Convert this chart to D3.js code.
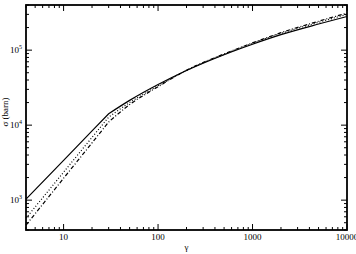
<!DOCTYPE html>
<html lang="en">
<head>
    <meta charset="UTF-8">
    <title>sigma vs gamma</title>
    <script src="https://cdn.jsdelivr.net/npm/d3@7/dist/d3.min.js"></script>
    <style>
        body { margin: 0; background: #fff; }
        text { font-family: "Liberation Serif", "DejaVu Serif", serif; fill: #000; }
    </style>
</head>
<body>
    <script>
        // data
        var gammas = [4, 10, 20, 30, 50, 100, 200, 500, 1000, 2000, 5000, 10000];
        var solid = [1030, 3400, 8370, 14200, 21400, 34800, 53500, 86900, 120000, 161000, 223000, 281000];
        var dotted = [575, 2360, 6870, 12800, 20000, 33500, 53800, 88000, 123000, 167000, 235000, 300000];
        var dashdot = [464, 1960, 5800, 11000, 18800, 32500, 54000, 89000, 125000, 171000, 243000, 312000];
        var kink = 3; // index of gamma = 30, where the curves bend
        var xMajor = [10, 100, 1000, 10000];
        var yMajor = [1000, 10000, 100000];

        var w = 356, h = 254;
        var mLeft = 26, mRight = 347, mTop = 5, mBottom = 230;

        var x = d3.scaleLog().domain([4, 10000]).range([mLeft, mRight]);
        var y = d3.scaleLog().domain([400, 400000]).range([mBottom, mTop]);

        var svg = d3.select('body').append('svg')
            .attr('width', w)
            .attr('height', h);

        //minor + major ticks, pointing inward on all four sides
        var xt = x.ticks().filter(function(d) { return d >= 4 && d <= 10000; });
        var yt = y.ticks().filter(function(d) { return d >= 400 && d <= 400000; });
        function isMajor(d) { return Math.abs(Math.log10(d) - Math.round(Math.log10(d))) < 1e-6; }

        var g = svg.append('g').attr('stroke', '#000').attr('stroke-width', 1);
        xt.forEach(function(d) {
            var len = isMajor(d) ? 6 : 3;
            g.append('line').attr('x1', x(d)).attr('x2', x(d)).attr('y1', mBottom).attr('y2', mBottom - len);
            g.append('line').attr('x1', x(d)).attr('x2', x(d)).attr('y1', mTop).attr('y2', mTop + len);
        });
        yt.forEach(function(d) {
            var len = isMajor(d) ? 6 : 3;
            g.append('line').attr('y1', y(d)).attr('y2', y(d)).attr('x1', mLeft).attr('x2', mLeft + len);
            g.append('line').attr('y1', y(d)).attr('y2', y(d)).attr('x1', mRight).attr('x2', mRight - len);
        });

        //curves: straight below the kink, smooth above it
        var lineLin = d3.line()
            .x(function(d) { return x(d[0]); })
            .y(function(d) { return y(d[1]); });
        var lineSmooth = d3.line()
            .curve(d3.curveMonotoneX)
            .x(function(d) { return x(d[0]); })
            .y(function(d) { return y(d[1]); });

        var series = [
            { v: solid, dash: null },
            { v: dotted, dash: '1,2' },
            { v: dashdot, dash: '4,2,1,2' }
        ];
        series.forEach(function(s) {
            var pts = gammas.map(function(gm, i) { return [gm, s.v[i]]; });
            var d = lineLin(pts.slice(0, kink + 1)) + lineSmooth(pts.slice(kink)).replace(/^M[^CL]*/, '');
            svg.append('path')
                .attr('d', d)
                .attr('fill', 'none')
                .attr('stroke', '#000')
                .attr('stroke-width', 1.2)
                .attr('stroke-dasharray', s.dash);
        });

        //frame
        svg.append('rect')
            .attr('x', mLeft).attr('y', mTop)
            .attr('width', mRight - mLeft).attr('height', mBottom - mTop)
            .attr('fill', 'none')
            .attr('stroke', '#000')
            .attr('stroke-width', 1.8);

        //x labels
        svg.selectAll('.xl')
            .data(xMajor)
            .enter()
            .append('text')
            .attr('x', function(d) { return x(d); })
            .attr('y', 240)
            .attr('text-anchor', 'middle')
            .attr('font-size', '9px')
            .text(function(d) { return d; });

        //y labels 10^n
        yMajor.forEach(function(d) {
            var t = svg.append('text')
                .attr('x', 22)
                .attr('y', y(d) + 3)
                .attr('text-anchor', 'end')
                .attr('font-size', '9px');
            t.append('tspan').text('10');
            t.append('tspan').attr('dy', -4).attr('font-size', '6px').text(Math.round(Math.log10(d)));
        });

        //axis titles
        svg.append('text')
            .attr('x', (mLeft + mRight) / 2)
            .attr('y', 250)
            .attr('text-anchor', 'middle')
            .attr('font-size', '9px')
            .text('γ');

        svg.append('text')
            .attr('transform', 'translate(8,112) rotate(-90)')
            .attr('text-anchor', 'middle')
            .attr('font-size', '9px')
            .text('σ  (barn)');
    </script>
</body>
</html>
